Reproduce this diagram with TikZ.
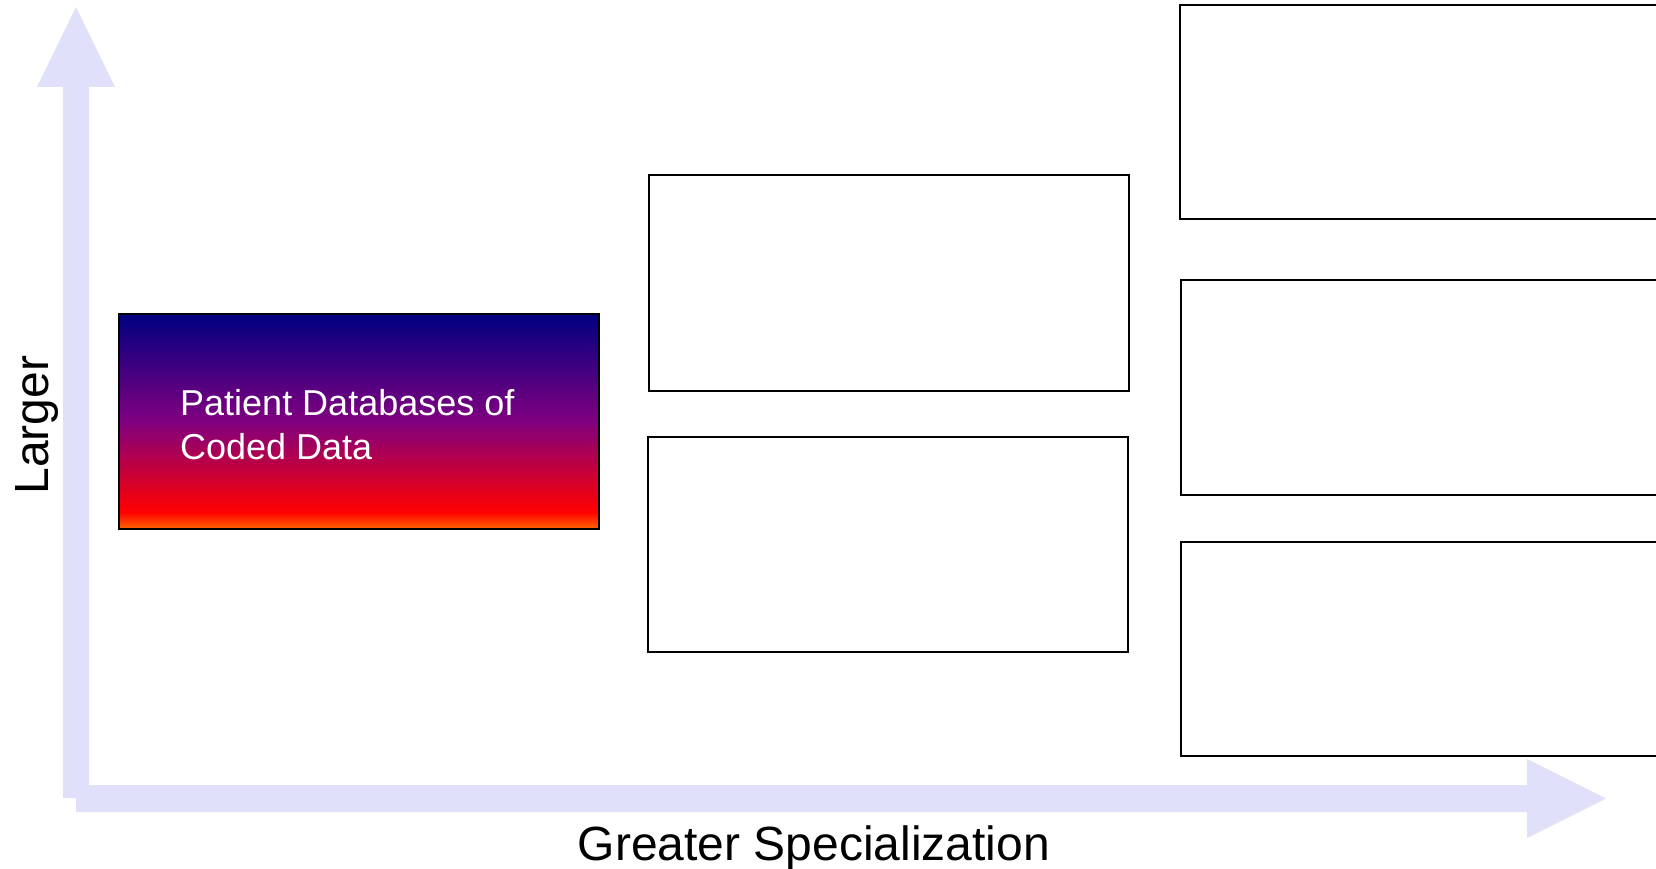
\documentclass[tikz,border=0pt]{standalone}
\usepackage{fontspec}
\setmainfont{Liberation Sans}
\definecolor{axiscol}{RGB}{224,224,251}
\definecolor{gnavy}{RGB}{0,0,128}
\definecolor{gpurple}{RGB}{128,0,128}
\definecolor{gred}{RGB}{255,0,0}
\definecolor{gorange}{RGB}{255,102,0}
\pgfdeclareverticalshading{dbgrad}{100bp}{color(0bp)=(gorange); color(25bp)=(gorange); color(29bp)=(gred); color(50bp)=(gpurple); color(75bp)=(gnavy); color(100bp)=(gnavy)}
\tikzset{
  emptybox/.style={draw=black, line width=2pt, fill=white, inner sep=0pt, outer sep=0pt},
  axisarrow/.style={fill=axiscol, draw=none},
  axislabel/.style={font=\fontsize{48}{56}\selectfont, text=black, inner sep=0pt},
  boxtext/.style={font=\fontsize{36}{44}\selectfont, text=white, inner sep=0pt, anchor=base west},
}
\begin{document}
\begin{tikzpicture}[x=1pt, y=-1pt]
\clip (0,0) rectangle (1656,869);
\fill[white] (0,0) rectangle (1656,869);
% axes
\fill[axisarrow] (63,798) -- (63,87) -- (37,87) -- (76,7) -- (115,87) -- (89,87) -- (89,798) -- cycle;
\fill[axisarrow] (76,785) -- (1527,785) -- (1527,759) -- (1606,798.5) -- (1527,838) -- (1527,812) -- (76,812) -- cycle;
\node[axislabel, anchor=base] (xlab) at (814,860) {Greater Specialization};
\node[axislabel, anchor=base, rotate=90] (ylab) at (48,425) {Larger};
% gradient box
\node[draw=black, line width=2pt, shading=dbgrad, minimum width=480pt, minimum height=215pt, inner sep=0pt, outer sep=0pt] (db) at (359,421.5) {};
\node[boxtext] (dbt1) at (180,415) {Patient Databases of};
\node[boxtext] (dbt2) at (180,459) {Coded Data};
% middle column
\node[emptybox, minimum width=480pt, minimum height=216pt] (m1) at (889,283) {};
\node[emptybox, minimum width=480pt, minimum height=215pt] (m2) at (888,544.5) {};
% right column (extends beyond the page)
\node[emptybox, minimum width=540pt, minimum height=214pt] (r1) at (1450,112) {};
\node[emptybox, minimum width=540pt, minimum height=215pt] (r2) at (1451,387) {};
\node[emptybox, minimum width=540pt, minimum height=214pt] (r3) at (1451,649) {};
\end{tikzpicture}
\end{document}
